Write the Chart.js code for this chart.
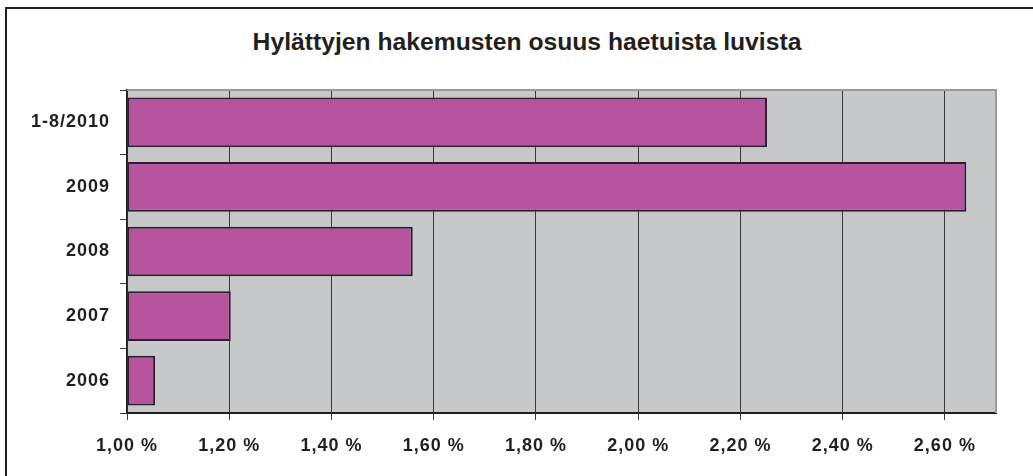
<!DOCTYPE html>
<html>
<head>
<meta charset="utf-8">
<script src="https://cdn.jsdelivr.net/npm/chart.js@4/dist/chart.umd.min.js"></script>
<style>
  html, body { margin: 0; padding: 0; background: #ffffff; overflow: hidden; }
  #wrap { position: relative; width: 1033px; height: 476px; }
  #frame { position: absolute; left: 5px; top: 7px; width: 1100px; height: 600px; border: 2px solid #231f20; box-sizing: border-box; }
  #title { position: absolute; left: 227px; width: 600px; top: 29px; text-align: center;
           font-family: "Liberation Sans", Arial, sans-serif; font-weight: bold; font-size: 24.7px; line-height: 25px; color: #231f20; white-space: nowrap; }
  canvas { position: absolute; left: 0; top: 0; }
</style>
</head>
<body>
<div id="wrap">
  <div id="frame"></div>
  <div id="title">Hylättyjen hakemusten osuus haetuista luvista</div>
  <canvas id="c" width="1033" height="476"></canvas>
</div>
<script>
const categories = ["1-8/2010", "2009", "2008", "2007", "2006"];
const shares = [2.252, 2.642, 1.559, 1.203, 1.055];
const xMin = 1.0;
const xMax = 2.7;
const xStep = 0.2;

const bgPlugin = {
  id: 'plotBg',
  beforeUpdate(chart) { chart.ctx.letterSpacing = '1px'; },
  beforeDraw(chart) {
    const { ctx, chartArea: a } = chart;
    ctx.save();
    ctx.fillStyle = '#C7C8CA';
    ctx.fillRect(a.left, a.top, a.right - a.left, a.bottom - a.top);
    ctx.restore();
    ctx.letterSpacing = '1px';
  },
  afterDraw(chart) {
    const { ctx, chartArea: a } = chart;
    ctx.save();
    ctx.strokeStyle = '#9a9b9d';
    ctx.lineWidth = 2;
    ctx.beginPath();
    ctx.moveTo(a.left, a.top);
    ctx.lineTo(a.right, a.top);
    ctx.lineTo(a.right, a.bottom);
    ctx.stroke();
    ctx.restore();
  }
};

new Chart(document.getElementById('c'), {
  type: 'bar',
  data: {
    labels: categories,
    datasets: [{
      data: shares,
      backgroundColor: '#B8539D',
      borderColor: '#2b2130',
      borderWidth: 2,
      borderSkipped: false,
      barPercentage: 0.77,
      categoryPercentage: 1.0,
      base: xMin
    }]
  },
  options: {
    indexAxis: 'y',
    responsive: false,
    animation: false,
    layout: { padding: { top: 90, right: 37, bottom: 0, left: 0 } },
    plugins: { legend: { display: false }, tooltip: { enabled: false }, title: { display: false } },
    scales: {
      x: {
        min: xMin, max: xMax,
        afterFit(s) { s.height = 63; },
        afterBuildTicks(s) {
          s.ticks = s.ticks.filter(t => {
            const k = (t.value - xMin) / xStep;
            return Math.abs(k - Math.round(k)) < 1e-6;
          });
        },
        ticks: {
          stepSize: xStep,
          padding: 15,
          color: '#231f20',
          font: { family: '"Liberation Sans", Arial, sans-serif', size: 18, weight: 'bold' },
          callback: v => Number(v).toFixed(2).replace('.', ',') + ' %'
        },
        grid: { color: '#3a3a3a', lineWidth: 1, tickLength: 7, drawTicks: true },
        border: { color: '#231f20', width: 2 }
      },
      y: {
        afterFit(s) { s.width = 127; },
        ticks: {
          padding: 10,
          color: '#231f20',
          font: { family: '"Liberation Sans", Arial, sans-serif', size: 18, weight: 'bold' }
        },
        grid: { offset: true, drawOnChartArea: false, drawTicks: true, tickLength: 7, color: '#3a3a3a', lineWidth: 1 },
        border: { color: '#231f20', width: 1.5 }
      }
    }
  },
  plugins: [bgPlugin]
});
</script>
</body>
</html>
